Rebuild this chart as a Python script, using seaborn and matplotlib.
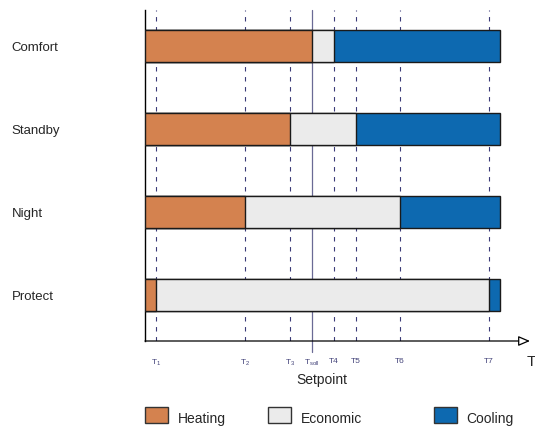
import matplotlib
matplotlib.use("Agg")
import matplotlib.pyplot as plt
from matplotlib.patches import Patch
import seaborn as sns

# ---- data ----
modes = ["Comfort", "Standby", "Night", "Protect"]
heating_end = [167, 145, 100, 11]
economic_end = [189, 211, 255, 344]
cooling_end = [355, 355, 355, 355]
thresholds = [11, 100, 145, 189, 211, 255, 344]
threshold_labels = ["T$_1$", "T$_2$", "T$_3$", "T4", "T5", "T6", "T7"]
setpoint = 167
setpoint_label = "T$_{soll}$"
legend_labels = ["Heating", "Economic", "Cooling"]

c_heat = "#D4824F"
c_eco = "#EBEBEB"
c_cool = "#0D69B0"
line_c = "#3b3b78"

sns.set_style("white")
plt.rcParams["font.family"] = ["Liberation Sans", "DejaVu Sans"]
plt.rcParams["mathtext.fontset"] = "custom"
plt.rcParams["mathtext.rm"] = "Liberation Sans"
plt.rcParams["mathtext.it"] = "Liberation Sans"

W, H = 535, 426
fig = plt.figure(figsize=(W / 100, H / 100), dpi=100)
ax = fig.add_axes([145 / W, 85 / H, 385 / W, 331 / H])

for vals, col in [(cooling_end, c_cool), (economic_end, c_eco), (heating_end, c_heat)]:
    sns.barplot(x=vals, y=modes, color=col, width=0.375, edgecolor="#1a1a1a",
                linewidth=1.0, saturation=1, ax=ax, zorder=3, orient="h")

for t in thresholds:
    ax.axvline(t, color=line_c, lw=0.8, ls=(0, (4, 5)), zorder=1)
ax.axvline(setpoint, ymin=-0.033, ymax=1, color="#6a6a95", lw=0.9, zorder=1, clip_on=False)

ax.set_xlim(0, 385)
ax.set_ylim(3.554, -0.434)

ticks = sorted(thresholds + [setpoint])
labels = []
for t in ticks:
    if t == setpoint:
        labels.append(setpoint_label)
    else:
        labels.append(threshold_labels[thresholds.index(t)])
ax.set_xticks(ticks)
ax.set_xticklabels(labels, fontsize=6, color="#44447a")
ax.tick_params(axis="x", length=0, pad=12)

ax.set_yticks(range(len(modes)))
ax.set_yticklabels(modes, fontsize=9.5)
for lab in ax.get_yticklabels():
    lab.set_horizontalalignment("left")
ax.tick_params(axis="y", length=0, pad=96)
ax.set_xlabel("")
ax.set_ylabel("")

for s in ["top", "right", "bottom"]:
    ax.spines[s].set_visible(False)
ax.spines["left"].set_color("black")
ax.spines["left"].set_linewidth(1.0)

ax.annotate("", xy=(1, 0), xytext=(0, 0), xycoords="axes fraction",
            arrowprops=dict(arrowstyle="-|>,head_length=0.7,head_width=0.3",
                            fc="white", ec="black", lw=0.9, shrinkA=0, shrinkB=0),
            annotation_clip=False)

ax.text(177, -39 / 331, "Setpoint", transform=ax.get_xaxis_transform(),
        ha="center", va="center", fontsize=10)
fig.text(527 / W, 1 - 362 / H, "T", ha="left", va="center", fontsize=11)

# legend
handles = [Patch(facecolor=c, edgecolor="#333333", linewidth=1.0) for c in (c_heat, c_eco, c_cool)]
xs = [145, 268, 434]
for h, lab, x in zip(handles, legend_labels, xs):
    leg = fig.legend([h], [lab], loc="center left", bbox_to_anchor=(x / W, 1 - 415 / H),
                     frameon=False, fontsize=10, handlelength=1.65, handleheight=1.5,
                     handletextpad=0.7, borderpad=0, borderaxespad=0)
    for txt in leg.get_texts():
        txt.set_y(-3)

fig.savefig("out.png", dpi=100)
